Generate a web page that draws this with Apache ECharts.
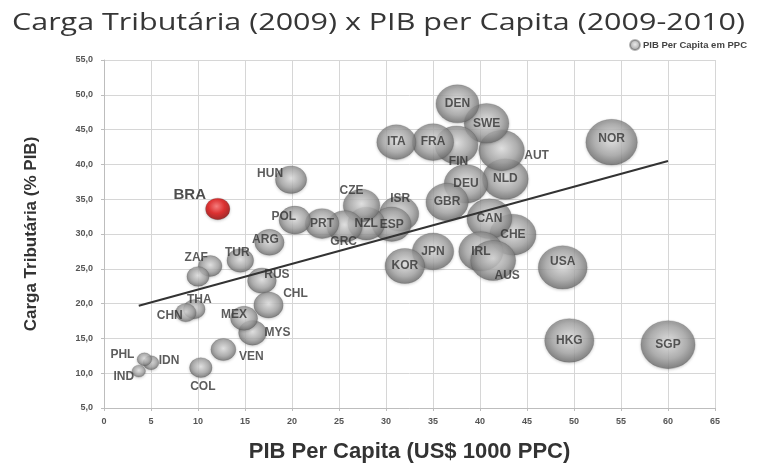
<!DOCTYPE html>
<html>
<head>
<meta charset="utf-8">
<script src="https://cdn.jsdelivr.net/npm/echarts@6/dist/echarts.min.js"></script>
<style>
  html, body { margin: 0; padding: 0; background: #ffffff; }
  #chart { width: 757px; height: 468px; }
</style>
</head>
<body>
<div id="chart"></div>
<script>
// Country codes, GDP per capita (US$ 1000 PPP) and tax burden (% of GDP)
const codes = ['SGP','NOR','HKG','USA','CHE','NLD','AUT','CAN','SWE','IRL','AUS','DEN','DEU','FIN','GBR','FRA','JPN','ITA','KOR','ISR','ESP','NZL','CZE','GRC','PRT','POL','HUN','ARG','RUS','CHL','MYS','MEX','TUR','VEN','BRA','ZAF','COL','','THA','CHN','IDN','PHL','IND'];
const pibPerCapita = [60.0,54.0,49.5,48.8,43.5,42.7,42.3,41.0,40.7,40.1,41.4,37.6,38.5,37.5,36.5,35.0,35.0,31.1,32.0,31.4,30.6,27.9,27.4,25.6,23.2,20.3,19.9,17.6,16.8,17.5,15.8,14.9,14.5,12.7,12.1,11.3,10.3,10.0,9.6,8.7,5.0,4.3,3.7];
const cargaTributaria = [14.1,43.2,14.7,25.2,29.9,37.9,42.0,32.2,45.9,27.5,26.2,48.7,37.2,42.8,34.6,43.2,27.5,43.2,25.4,32.9,31.4,31.5,34.1,31.1,31.5,32.0,37.8,28.8,23.3,19.8,15.8,17.9,26.2,13.4,33.6,25.4,10.8,23.9,19.2,18.7,11.5,12.0,10.3];

// Linear trend line end points
const trendX = [3.7, 60.0];
const trendY = [19.7, 40.5];

// Axis ranges and tick steps
const xTicks = { min: 0, max: 65, step: 5 };
const yTicks = { min: 5, max: 55, step: 5 };

const titleText = 'Carga Tributária (2009) x PIB per Capita (2009-2010)';
const legendText = 'PIB Per Capita em PPC';
const highlight = 'BRA';

// Label placement per country (pixel offsets from bubble centre)
const labelOffset = {
  FIN: [2, 17], AUT: [35, 5], AUS: [14, 15], ISR: [1, -15], CZE: [-10, -15],
  GRC: [-1, 15], POL: [-11, -3], HUN: [-21, -6], ARG: [-4, -3], TUR: [-3, -8],
  ZAF: [-14, -8], RUS: [15, -6], CHL: [27, -11], THA: [5, -9], CHN: [-16, 3],
  MEX: [-10, -4], MYS: [25, 0], VEN: [28, 7], COL: [2, 19], PHL: [-22, -5],
  IDN: [18, -2], IND: [-15, 6], BRA: [-28, -14], USA: [0, -6], NOR: [0, -3]
};

const grayBall = {
  type: 'radial', x: 0.5, y: 0.45, r: 0.62,
  colorStops: [
    { offset: 0, color: '#e4e4e4' },
    { offset: 0.55, color: '#a6a6a6' },
    { offset: 1, color: '#575757' }
  ]
};
const redBall = {
  type: 'radial', x: 0.45, y: 0.38, r: 0.65,
  colorStops: [
    { offset: 0, color: '#ff6a6a' },
    { offset: 0.5, color: '#e00a0a' },
    { offset: 1, color: '#8a0000' }
  ]
};

const bubbles = codes.map((c, i) => {
  const isHi = c === highlight;
  return {
    name: c,
    value: [pibPerCapita[i], cargaTributaria[i]],
    itemStyle: { color: isHi ? redBall : grayBall },
    label: {
      offset: labelOffset[c] || [0, 0],
      fontSize: isHi ? 15 : 12,
      color: isHi ? '#222' : '#333'
    }
  };
});

const fmtY = v => v.toFixed(1).replace('.', ',');

// Title is drawn as a graphic text, widened to span the page header
const titleFont = '24px "Open Sans"';
const measureCtx = document.createElement('canvas').getContext('2d');
measureCtx.font = titleFont;
const titleScale = 733 / measureCtx.measureText(titleText).width;

const chart = echarts.init(document.getElementById('chart'), null, { renderer: 'canvas' });
chart.setOption({
  backgroundColor: '#ffffff',
  animation: false,
  graphic: [{
    type: 'text',
    left: 12, top: 11,
    scaleX: titleScale,
    style: {
      text: titleText,
      font: titleFont,
      fill: '#363636'
    }
  }],
  legend: {
    right: 5, top: 34,
    itemWidth: 10, itemHeight: 10, itemGap: 4,
    data: [{ name: legendText, icon: 'circle' }],
    textStyle: { fontFamily: 'Liberation Sans', fontWeight: 'bold', fontSize: 9.5, color: '#444', padding: [0, 0, 0, -2] }
  },
  grid: { left: 104, right: 42, top: 60, bottom: 57 },
  xAxis: {
    type: 'value', min: xTicks.min, max: xTicks.max, interval: xTicks.step,
    name: 'PIB Per Capita (US$ 1000 PPC)', nameLocation: 'middle', nameGap: 33,
    nameTextStyle: { fontFamily: 'Liberation Sans', fontWeight: 'bold', fontSize: 22, color: '#333' },
    axisLine: { lineStyle: { color: '#bdbdbd' } },
    axisTick: { show: true, length: 3, lineStyle: { color: '#bdbdbd' } },
    axisLabel: { fontFamily: 'Liberation Sans', fontWeight: 'bold', fontSize: 9, color: '#555', margin: 9 },
    splitLine: { show: true, lineStyle: { color: '#d6d6d6' } }
  },
  yAxis: {
    type: 'value', min: yTicks.min, max: yTicks.max, interval: yTicks.step,
    name: 'Carga Tributária (% PIB)', nameLocation: 'middle', nameGap: 64,
    nameTextStyle: { fontFamily: 'Liberation Sans', fontWeight: 'bold', fontSize: 17, color: '#333' },
    axisLine: { show: true, lineStyle: { color: '#bdbdbd' } },
    axisTick: { show: true, length: 3, lineStyle: { color: '#bdbdbd' } },
    axisLabel: { fontFamily: 'Liberation Sans', fontWeight: 'bold', fontSize: 9, color: '#555', margin: 11, formatter: fmtY },
    splitLine: { show: true, lineStyle: { color: '#d6d6d6' } }
  },
  series: [
    {
      name: legendText,
      type: 'scatter',
      data: bubbles,
      symbol: 'circle',
      symbolSize: v => [7.0 * Math.sqrt(v[0]), 6.2 * Math.sqrt(v[0])],
      itemStyle: {
        color: grayBall,
        borderColor: 'rgba(70,70,70,0.5)', borderWidth: 0.5,
        shadowColor: 'rgba(0,0,0,0.25)', shadowBlur: 3, shadowOffsetY: 1
      },
      label: {
        show: true, position: 'inside',
        formatter: p => p.name,
        fontFamily: 'Liberation Sans', fontWeight: 'bold', fontSize: 12, color: '#333'
      },
      z: 3
    },
    {
      name: 'trend',
      type: 'line',
      data: trendX.map((x, i) => [x, trendY[i]]),
      symbol: 'none',
      lineStyle: { color: '#333333', width: 2 },
      z: 4,
      silent: true
    }
  ]
});
</script>
</body>
</html>
